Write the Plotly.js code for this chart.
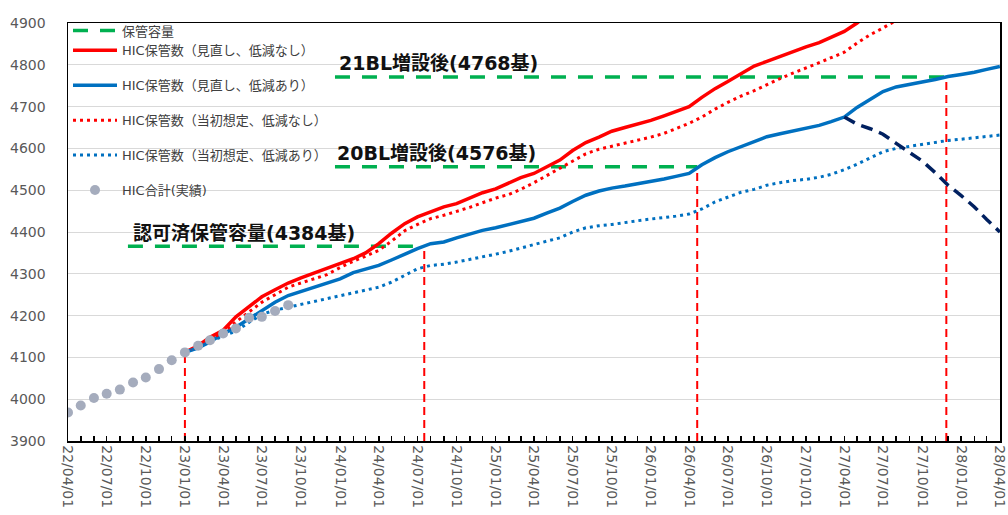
<!DOCTYPE html>
<html><head><meta charset="utf-8">
<script src="https://cdn.plot.ly/plotly-3.0.1.min.js"></script>
<style>body{margin:0;background:#fff}#c{width:1008px;height:515px}</style>
</head><body><div id="c"></div>
<script>
// monthly actuals from 2022-04
const actualStart = [2022, 4];
const actualValues = [3968,3985,4003,4013,4023,4040,4052,4072,4093,4112,4128,4141,4157,4169,4195,4197,4211,4225];

// projections from 2023-01 (monthly)
const projStart = [2023, 1];
const redSolid = [4112,4128,4148,4165,4197,4222,4245,4262,4278,4290,
  4302,4314,4325,4336,4350,4372,4397,4420,4436,4447,
  4460,4468,4482,4494,4503,4518,4530,4540,4556,4572,
  4595,4614,4627,4641,4650,4658,4667,4678,4688,4700,
  4722,4743,4760,4778,4797,4808,4820,4832,4843,4853,
  4866,4880,4900,4925];
const redDot = [4112,4126,4143,4160,4185,4208,4232,4250,4268,4278,
  4288,4298,4315,4330,4342,4356,4378,4403,4418,4432,
  4440,4449,4459,4470,4481,4490,4502,4518,4535,4552,
  4568,4587,4598,4605,4612,4619,4627,4636,4648,4660,
  4675,4694,4710,4725,4738,4753,4767,4780,4792,4805,
  4817,4830,4852,4872,4888,4907,4925];
const blueSolid = [4112,4123,4137,4157,4172,4192,4213,4232,4248,4258,
  4267,4277,4288,4303,4311,4320,4333,4347,4360,4372,
  4376,4386,4396,4404,4410,4418,4426,4433,4445,4457,
  4473,4488,4498,4505,4510,4515,4520,4527,4533,4540,
  4561,4578,4592,4604,4618,4628,4635,4641,4648,4655,
  4664,4675,4698,4718,4736,4747,4754,4759,4765,4772,
  4777,4782,4789,4796];
const blueDot = [4112,4124,4138,4150,4163,4184,4203,4213,4220,4225,
  4233,4240,4246,4253,4260,4268,4280,4296,4312,4320,
  4323,4328,4334,4340,4347,4354,4362,4370,4378,4386,
  4400,4410,4415,4418,4423,4427,4431,4434,4438,4443,
  4455,4472,4484,4495,4502,4512,4518,4523,4526,4531,
  4538,4549,4562,4578,4592,4600,4605,4609,4614,4619,
  4622,4626,4629,4632];
// dark navy dashed, from 2027-04
const navyStart = [2027, 4];
const navyValues = [4675,4658,4647,4634,4612,4591,4570,4542,4512,4487,4460,4430,4400];

// storage capacity levels (green dashed)
const capLevels = [4366, 4556, 4771];
const capStarts = ['2022-08-20', '2023-12-20', '2023-12-20'];
const capEnds = ['2024-07-17', '2026-04-20', '2027-11-27'];
// red vertical markers
const markerDates = ['2023-01-01', '2024-07-17', '2026-04-20', '2027-11-27'];
const markerTops = [4112, 4366, 4556, 4771];

const capLabels = ['認可済保管容量(4384基)', '20BL増設後(4576基)', '21BL増設後(4768基)'];
const legendNames = ['保管容量', 'HIC保管数（見直し、低減なし）', 'HIC保管数（見直し、低減あり）',
  'HIC保管数（当初想定、低減なし）', 'HIC保管数（当初想定、低減あり）', 'HIC合計(実績)'];

function monthSeq(start, n) {
  const out = [];
  let y = start[0], m = start[1];
  for (let i = 0; i < n; i++) {
    out.push(y + '-' + String(m).padStart(2, '0') + '-01');
    m++; if (m > 12) { m = 1; y++; }
  }
  return out;
}

const FONT = 'DejaVu Sans, Noto Sans CJK JP, sans-serif';

// build segmented traces
const gx = [], gy = [];
capLevels.forEach((v, i) => { gx.push(capStarts[i], capEnds[i], null); gy.push(v, v, null); });
const vx = [], vy = [];
markerDates.forEach((d, i) => { vx.push(d, d, null); vy.push(3900, markerTops[i], null); });

const traces = [
  {x: vx, y: vy, mode: 'lines', line: {color: '#FF0000', width: 2, dash: '8px,5px'}, showlegend: false, hoverinfo: 'skip'},
  {x: gx, y: gy, mode: 'lines', name: legendNames[0], legendgroup: 'a', line: {color: '#00B050', width: 3.5, dash: '15px,12px'}, connectgaps: false},
  {x: monthSeq(projStart, redSolid.length), y: redSolid, mode: 'lines', name: legendNames[1], legendgroup: 'a', line: {color: '#FF0000', width: 3.5}},
  {x: monthSeq(projStart, blueSolid.length), y: blueSolid, mode: 'lines', name: legendNames[2], legendgroup: 'b', line: {color: '#0070C0', width: 3.5}},
  {x: monthSeq(projStart, redDot.length), y: redDot, mode: 'lines', name: legendNames[3], legendgroup: 'c', line: {color: '#FF0000', width: 3, dash: '3px,4px'}},
  {x: monthSeq(projStart, blueDot.length), y: blueDot, mode: 'lines', name: legendNames[4], legendgroup: 'd', line: {color: '#0070C0', width: 3, dash: '3px,4px'}},
  {x: monthSeq(navyStart, navyValues.length), y: navyValues, mode: 'lines', showlegend: false, line: {color: '#002060', width: 3.5, dash: '12px,7px'}},
  {x: monthSeq(actualStart, actualValues.length), y: actualValues, mode: 'markers', name: legendNames[5], legendgroup: 'e', marker: {color: '#A5ACBD', size: 10}}
];

const annY = [0.497, 0.689, 0.905];
const annX = [0.068, 0.287, 0.289];
const annotations = capLabels.map((t, i) => ({
  text: t, xref: 'paper', yref: 'paper', x: annX[i], y: annY[i], xanchor: 'left', yanchor: 'middle',
  showarrow: false, font: {family: FONT, size: 19, color: '#111', weight: 'bold'}
}));

const layout = {
  width: 1008, height: 515,
  margin: {l: 68, r: 8, t: 23, b: 74},
  paper_bgcolor: '#fff', plot_bgcolor: '#fff',
  font: {family: FONT},
  showlegend: true,
  legend: {x: 0.0, y: 1.018, xanchor: 'left', yanchor: 'top', bgcolor: 'rgba(0,0,0,0)',
    font: {family: FONT, size: 13, color: '#404040'}, traceorder: 'grouped', tracegroupgap: 15,
    itemwidth: 44},
  xaxis: {
    type: 'date', range: ['2022-04-01', '2028-04-01 06:00'],
    tick0: '2022-04-01', dtick: 'M3', tickformat: '%y/%m/%d', tickangle: 90,
    ticklabeloverflow: 'allow',
    ticks: 'inside', ticklen: 5, tickcolor: '#000', tickwidth: 1.5,
    minor: {dtick: 'M1', ticks: 'inside', ticklen: 5, tickcolor: '#000', tickwidth: 1.5, showgrid: false},
    showgrid: false, showline: true, linecolor: '#000', linewidth: 1.5, mirror: true,
    tickfont: {family: FONT, size: 14, color: '#595959'}, zeroline: false
  },
  yaxis: {
    range: [3900, 4900], dtick: 100, tick0: 3900,
    showgrid: true, gridcolor: '#D9D9D9', gridwidth: 1,
    showline: true, linecolor: '#000', linewidth: 1.5, mirror: true,
    ticks: '', ticklabelstandoff: 18, zeroline: false,
    tickfont: {family: FONT, size: 14, color: '#595959'}
  },
  annotations: annotations
};

Plotly.newPlot('c', traces, layout, {displayModeBar: false, staticPlot: true});
</script>
</body></html>
